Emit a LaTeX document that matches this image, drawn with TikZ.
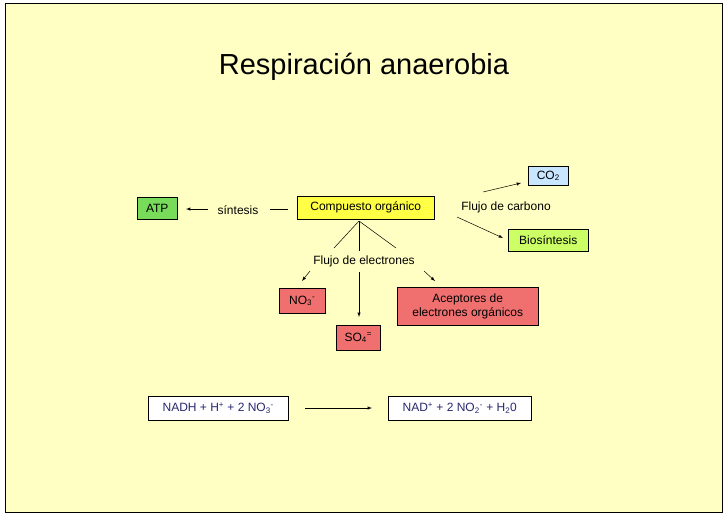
\documentclass[tikz,border=0pt]{standalone}
\usepackage{fontspec}
\setmainfont{Liberation Sans}
\newcommand{\sbs}[1]{\textsubscript{#1}}
\newcommand{\sps}[1]{\textsuperscript{#1}}
\begin{document}
\begin{tikzpicture}[x=1pt,y=-1pt,
 bx/.style={draw=black,line width=0.5pt,inner sep=0pt,anchor=north west,font=\fontsize{12}{13.5}\selectfont,align=center},
 ar/.style={-latex,line width=0.5pt},
 ln/.style={line width=0.5pt},
 lb/.style={font=\fontsize{12}{14}\selectfont}]
\definecolor{bg}{HTML}{FFFFC4}
\definecolor{pinkb}{RGB}{240,112,112}
\definecolor{txtb}{RGB}{40,40,110}
\useasboundingbox (0,0) rectangle (728,515);
\fill[white] (0,0) rectangle (728,515);
\draw[fill=bg,line width=1pt] (5,3) rectangle (722,512);
\node[font=\fontsize{29}{32}\selectfont] (title) at (364,67) {Respiración anaerobia};
\node[bx,fill={rgb,255:red,200;green,230;blue,255},minimum width=40pt,minimum height=19pt] (co2) at (528,166) {CO\sbs{2}};
\node[bx,fill={rgb,255:red,120;green,220;blue,90},minimum width=40pt,minimum height=22pt] (atp) at (137,197) {ATP};
\node[lb] (sin) at (238,210) {síntesis};
\node[bx,fill={rgb,255:red,255;green,255;blue,70},minimum width=137pt,minimum height=23pt] (comp) at (297,196) {Compuesto orgánico};
\node[lb] (fc) at (506,207) {Flujo de carbono};
\node[bx,fill={rgb,255:red,204;green,255;blue,102},minimum width=80pt,minimum height=22pt] (bio) at (508,229) {Biosíntesis};
\node[lb] (fe) at (364,261) {Flujo de electrones};
\node[bx,fill=pinkb,minimum width=46pt,minimum height=25pt] (no3) at (279,288) {NO\sbs{3}\sps{-}};
\node[bx,fill=pinkb,minimum width=44pt,minimum height=25pt] (so4) at (336,325) {SO\sbs{4}\sps{=}};
\node[bx,fill=pinkb,minimum width=141pt,minimum height=38pt] (acep) at (397,287) {Aceptores de\\electrones orgánicos};
\node[bx,fill=white,text=txtb,minimum width=140pt,minimum height=24pt] (nadh) at (148,396) {NADH + H\sps{+} + 2 NO\sbs{3}\sps{-}};
\node[bx,fill=white,text=txtb,minimum width=143pt,minimum height=24pt] (nad) at (388,396) {NAD\sps{+} + 2 NO\sbs{2}\sps{-} + H\sbs{2}0};
% connectors
\coordinate (s1) at (270,209); \coordinate (s2) at (288,209);
\draw[ln] (s1) -- (s2);
\coordinate (a1) at (208,209); \coordinate (a2) at (186,209);
\draw[ar] (a1) -- (a2);
\coordinate (c1) at (483,192); \coordinate (c2) at (521,183);
\draw[ar] (c1) -- (c2);
\coordinate (b1) at (457,217); \coordinate (b2) at (503,238);
\draw[ar] (b1) -- (b2);
\coordinate (m) at (359,221);
\coordinate (l1) at (334,248); \coordinate (l2) at (359,251); \coordinate (l3) at (396,248);
\draw[ln] (m) -- (l1); \draw[ln] (m) -- (l2); \draw[ln] (m) -- (l3);
\coordinate (e1) at (310,271); \coordinate (e2) at (302,281);
\draw[ar] (e1) -- (e2);
\coordinate (f1) at (359,272); \coordinate (f2) at (359,317);
\draw[ar] (f1) -- (f2);
\coordinate (g1) at (424,271); \coordinate (g2) at (435,281);
\draw[ar] (g1) -- (g2);
\coordinate (r1) at (305,408); \coordinate (r2) at (372,408);
\draw[ar] (r1) -- (r2);
\end{tikzpicture}
\end{document}
